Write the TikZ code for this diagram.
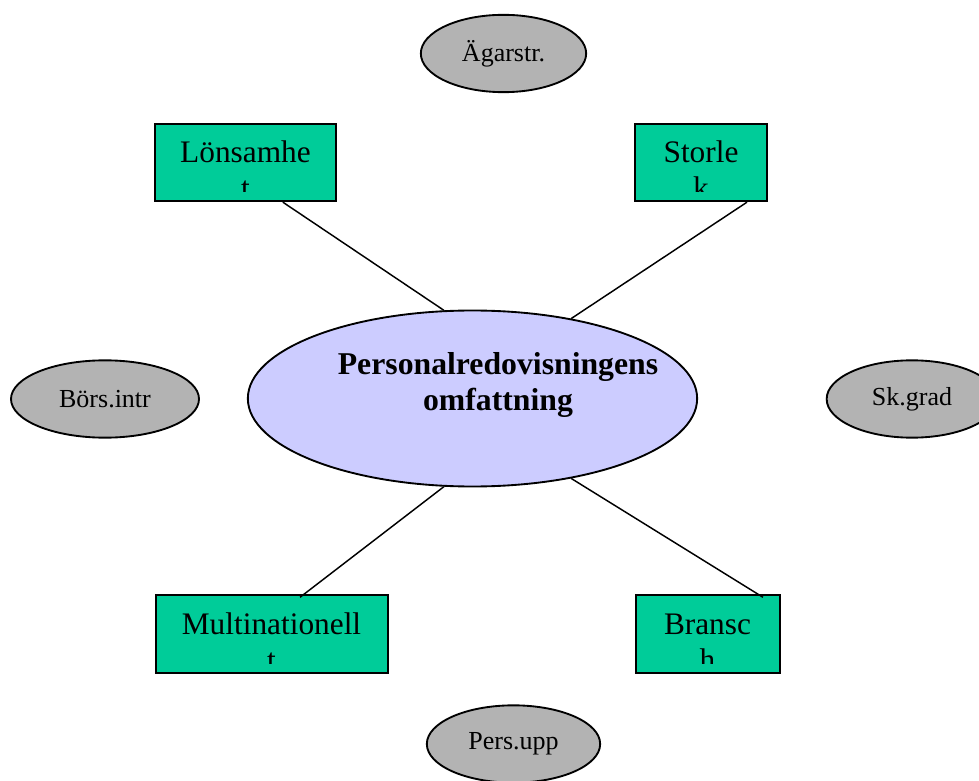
\documentclass[tikz,border=0pt]{standalone}
\usepackage{fontspec}
\setmainfont{Liberation Serif}
\usetikzlibrary{shapes.geometric}
\definecolor{factorgreen}{RGB}{0,204,153}
\definecolor{corelilac}{RGB}{204,204,255}
\definecolor{sidegrey}{RGB}{179,179,179}
\begin{document}
\begin{tikzpicture}[
    x=0.75pt, y=-0.75pt,
    factor/.style={rectangle, draw, line width=1.5pt, fill=factorgreen, minimum height=58pt, inner sep=0pt},
    factortext/.style={anchor=base, inner sep=0pt, font=\fontsize{23.5}{27}\selectfont},
    side/.style={ellipse, draw, line width=1.4pt, fill=sidegrey, inner sep=0pt, minimum height=58pt, font=\fontsize{19.5}{23}\selectfont},
    core/.style={ellipse, draw, line width=1.4pt, fill=corelilac, inner sep=0pt, minimum width=337pt, minimum height=132pt},
    link/.style={line width=1.1pt}
]
\useasboundingbox (0,0) rectangle (979,781);

\node[side, minimum width=124pt] (agar) at (503.5,53.5) {Ägarstr.};
\node[side, minimum width=141pt] (bors) at (105,399) {Börs.intr};
\node[side, minimum width=128pt] (skgrad) at (912,399) {Sk.grad};
\node[side, minimum width=130pt] (persupp) at (513.5,744) {Pers.upp};

\node[core] (core) at (472.5,398.5) {};
\node[anchor=base, align=center, inner sep=0pt, font=\bfseries\fontsize{23.8}{27}\selectfont] (coretext) at (498,410) {Personalredovisningens\\omfattning};

\node[factor, minimum width=136pt] (lon) at (245.5,162.5) {};
\node[factortext] (lontext) at (245.5,163) {Lönsamhe};
\node[factor, minimum width=99pt] (sto) at (701,162.5) {};
\node[factortext] (stotext) at (701,163) {Storle};
\node[factor, minimum width=174pt] (mul) at (271.5,634) {};
\node[factortext] (multext) at (271.5,634) {Multinationell};
\node[factor, minimum width=108pt] (bra) at (707.5,634) {};
\node[factortext] (bratext) at (707.5,634) {Bransc};

\begin{scope}
    \clip (150,120) rectangle (800,192);
    \node[factortext] (lontail) at (245.5,199) {t};
    \node[factortext] (stotail) at (701,199) {k};
\end{scope}
\begin{scope}
    \clip (150,590) rectangle (800,663);
    \node[factortext] (multail) at (271.5,670) {t};
    \node[factortext] (bratail) at (707.5,670) {h};
\end{scope}

\draw[link] ([xshift=28pt]lon.south) -- (core.108.6);
\draw[link] ([xshift=34.5pt]sto.south) -- (core.39);
\draw[link] ([xshift=21.4pt,yshift=-2.2pt]mul.north) -- (core.-108.4);
\draw[link] ([xshift=41.6pt,yshift=-2.2pt]bra.north) -- (core.-39);

\end{tikzpicture}
\end{document}
